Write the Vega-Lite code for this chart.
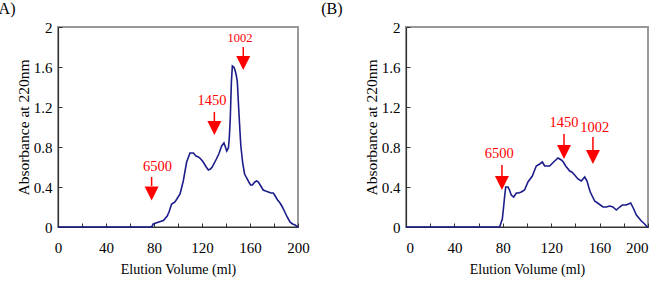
{
  "$schema": "https://vega.github.io/schema/vega-lite/v6.json",
  "padding": {"left": -8, "top": 0, "right": 0, "bottom": 0},
  "background": "white",
  "config": {
    "font": "Liberation Serif",
    "view": {"stroke": "#999999", "strokeWidth": 2},
    "axis": {
      "labelFont": "Liberation Serif", "labelFontSize": 15, "labelColor": "#000000", "labelOverlap": false, "labelFlush": false,
      "titleFont": "Liberation Serif", "titleFontSize": 14, "titleFontWeight": "normal", "titleColor": "#000000",
      "grid": false, "domainColor": "#333333", "domainWidth": 1.2, "tickColor": "#333333", "tickSize": -4, "tickWidth": 1
    },
    "text": {"font": "Liberation Serif"},
    "title": {"font": "Liberation Serif", "fontSize": 16, "fontWeight": "normal", "color": "#000000", "anchor": "start", "frame": "bounds", "offset": 3}
  },
  "datasets": {
    "curve": [
      {"panel": "A", "ml": 0, "abs": 0}, {"panel": "A", "ml": 78, "abs": 0}, {"panel": "A", "ml": 79.4, "abs": 0.03},
      {"panel": "A", "ml": 84, "abs": 0.05}, {"panel": "A", "ml": 87.8, "abs": 0.065}, {"panel": "A", "ml": 91, "abs": 0.11},
      {"panel": "A", "ml": 92.5, "abs": 0.15}, {"panel": "A", "ml": 94.7, "abs": 0.23}, {"panel": "A", "ml": 97.5, "abs": 0.25},
      {"panel": "A", "ml": 101.7, "abs": 0.33}, {"panel": "A", "ml": 104.4, "abs": 0.46}, {"panel": "A", "ml": 107.2, "abs": 0.65},
      {"panel": "A", "ml": 110, "abs": 0.74}, {"panel": "A", "ml": 112.8, "abs": 0.74}, {"panel": "A", "ml": 115, "abs": 0.71},
      {"panel": "A", "ml": 117, "abs": 0.7}, {"panel": "A", "ml": 119, "abs": 0.68}, {"panel": "A", "ml": 121, "abs": 0.65},
      {"panel": "A", "ml": 123.5, "abs": 0.6}, {"panel": "A", "ml": 125.3, "abs": 0.57}, {"panel": "A", "ml": 127, "abs": 0.58},
      {"panel": "A", "ml": 128.5, "abs": 0.6}, {"panel": "A", "ml": 132, "abs": 0.68}, {"panel": "A", "ml": 134, "abs": 0.73},
      {"panel": "A", "ml": 136.4, "abs": 0.81}, {"panel": "A", "ml": 138.3, "abs": 0.84}, {"panel": "A", "ml": 139.5, "abs": 0.8},
      {"panel": "A", "ml": 140.6, "abs": 0.76}, {"panel": "A", "ml": 142, "abs": 0.79}, {"panel": "A", "ml": 142.8, "abs": 0.9},
      {"panel": "A", "ml": 143.6, "abs": 1.1}, {"panel": "A", "ml": 144.5, "abs": 1.45}, {"panel": "A", "ml": 145.3, "abs": 1.61},
      {"panel": "A", "ml": 146.5, "abs": 1.6}, {"panel": "A", "ml": 147.5, "abs": 1.57}, {"panel": "A", "ml": 148.5, "abs": 1.52},
      {"panel": "A", "ml": 149.4, "abs": 1.46}, {"panel": "A", "ml": 150.3, "abs": 1.25}, {"panel": "A", "ml": 151.2, "abs": 1.05},
      {"panel": "A", "ml": 152.3, "abs": 0.82}, {"panel": "A", "ml": 153.9, "abs": 0.64}, {"panel": "A", "ml": 155.5, "abs": 0.53},
      {"panel": "A", "ml": 157.2, "abs": 0.49}, {"panel": "A", "ml": 159, "abs": 0.45}, {"panel": "A", "ml": 160.5, "abs": 0.42},
      {"panel": "A", "ml": 162, "abs": 0.42}, {"panel": "A", "ml": 164, "abs": 0.45}, {"panel": "A", "ml": 165.6, "abs": 0.46},
      {"panel": "A", "ml": 167, "abs": 0.45}, {"panel": "A", "ml": 169, "abs": 0.41}, {"panel": "A", "ml": 171, "abs": 0.37},
      {"panel": "A", "ml": 173, "abs": 0.36}, {"panel": "A", "ml": 175.3, "abs": 0.35}, {"panel": "A", "ml": 177.5, "abs": 0.34},
      {"panel": "A", "ml": 179.4, "abs": 0.34}, {"panel": "A", "ml": 180.5, "abs": 0.32}, {"panel": "A", "ml": 181.5, "abs": 0.3},
      {"panel": "A", "ml": 183, "abs": 0.27}, {"panel": "A", "ml": 185, "abs": 0.24}, {"panel": "A", "ml": 187, "abs": 0.2},
      {"panel": "A", "ml": 189, "abs": 0.15}, {"panel": "A", "ml": 191, "abs": 0.1}, {"panel": "A", "ml": 193.3, "abs": 0.05},
      {"panel": "A", "ml": 195.5, "abs": 0.03}, {"panel": "A", "ml": 197.5, "abs": 0.02}, {"panel": "A", "ml": 200, "abs": 0},
      {"panel": "B", "ml": 0, "abs": 0}, {"panel": "B", "ml": 77.4, "abs": 0}, {"panel": "B", "ml": 79.6, "abs": 0.08},
      {"panel": "B", "ml": 80.5, "abs": 0.18}, {"panel": "B", "ml": 81.3, "abs": 0.28}, {"panel": "B", "ml": 82.4, "abs": 0.4},
      {"panel": "B", "ml": 84.3, "abs": 0.4}, {"panel": "B", "ml": 85.5, "abs": 0.37}, {"panel": "B", "ml": 87, "abs": 0.32},
      {"panel": "B", "ml": 89, "abs": 0.3}, {"panel": "B", "ml": 91.2, "abs": 0.34}, {"panel": "B", "ml": 93, "abs": 0.34},
      {"panel": "B", "ml": 95.3, "abs": 0.35}, {"panel": "B", "ml": 98, "abs": 0.37}, {"panel": "B", "ml": 100.8, "abs": 0.45},
      {"panel": "B", "ml": 104.4, "abs": 0.51}, {"panel": "B", "ml": 106, "abs": 0.56}, {"panel": "B", "ml": 107.7, "abs": 0.61},
      {"panel": "B", "ml": 110.5, "abs": 0.63}, {"panel": "B", "ml": 112.7, "abs": 0.65}, {"panel": "B", "ml": 114.6, "abs": 0.61},
      {"panel": "B", "ml": 118.7, "abs": 0.61}, {"panel": "B", "ml": 122, "abs": 0.65}, {"panel": "B", "ml": 125.6, "abs": 0.69},
      {"panel": "B", "ml": 128.4, "abs": 0.67}, {"panel": "B", "ml": 130, "abs": 0.65}, {"panel": "B", "ml": 132, "abs": 0.61},
      {"panel": "B", "ml": 135.3, "abs": 0.56}, {"panel": "B", "ml": 137, "abs": 0.55}, {"panel": "B", "ml": 139.4, "abs": 0.52},
      {"panel": "B", "ml": 142.1, "abs": 0.48}, {"panel": "B", "ml": 144.9, "abs": 0.46}, {"panel": "B", "ml": 147.7, "abs": 0.5},
      {"panel": "B", "ml": 149.6, "abs": 0.46}, {"panel": "B", "ml": 151, "abs": 0.4}, {"panel": "B", "ml": 152.3, "abs": 0.35},
      {"panel": "B", "ml": 155.9, "abs": 0.26}, {"panel": "B", "ml": 159.5, "abs": 0.23}, {"panel": "B", "ml": 162.8, "abs": 0.2},
      {"panel": "B", "ml": 165.6, "abs": 0.2}, {"panel": "B", "ml": 168.3, "abs": 0.21}, {"panel": "B", "ml": 171, "abs": 0.2},
      {"panel": "B", "ml": 173.8, "abs": 0.17}, {"panel": "B", "ml": 176.6, "abs": 0.2}, {"panel": "B", "ml": 178.8, "abs": 0.22},
      {"panel": "B", "ml": 182, "abs": 0.22}, {"panel": "B", "ml": 185.7, "abs": 0.24}, {"panel": "B", "ml": 188.2, "abs": 0.18},
      {"panel": "B", "ml": 190.4, "abs": 0.12}, {"panel": "B", "ml": 194.5, "abs": 0.06}, {"panel": "B", "ml": 197.2, "abs": 0.03},
      {"panel": "B", "ml": 199.4, "abs": 0}, {"panel": "B", "ml": 200, "abs": 0}
    ],
    "arrows": [
      {"panel": "A", "label": "6500", "x": 78, "textX": 83, "textY": 0.6, "shaftTop": 0.5, "headTop": 0.41, "headMid": 0.335},
      {"panel": "A", "label": "1450", "x": 130.3, "textX": 128.3, "textY": 1.26, "shaftTop": 1.15, "headTop": 1.06, "headMid": 0.99},
      {"panel": "A", "label": "1002", "x": 154.4, "textX": 151.7, "textY": 1.89, "shaftTop": 1.8, "headTop": 1.71, "headMid": 1.64},
      {"panel": "B", "label": "6500", "x": 79.3, "textX": 77.1, "textY": 0.73, "shaftTop": 0.62, "headTop": 0.5, "headMid": 0.44},
      {"panel": "B", "label": "1450", "x": 130.6, "textX": 130.6, "textY": 1.04, "shaftTop": 0.93, "headTop": 0.81, "headMid": 0.75},
      {"panel": "B", "label": "1002", "x": 154.5, "textX": 155.9, "textY": 0.99, "shaftTop": 0.9, "headTop": 0.77, "headMid": 0.7}
    ]
  },
  "spacing": 108,
  "bounds": "flush",
  "hconcat": [
    {
      "title": {"text": "(A)", "dx": -23},
      "width": 240, "height": 200,
      "layer": [
        {
          "data": {"name": "curve"},
          "transform": [{"filter": "datum.panel == 'A'"}],
          "mark": {"type": "line", "color": "#1c1c8a", "strokeWidth": 1.6},
          "encoding": {
            "x": {"field": "ml", "type": "quantitative", "scale": {"domain": [0, 200], "nice": false},
              "axis": {"title": "Elution Volume (ml)", "values": [0, 20, 40, 60, 80, 100, 120, 140, 160, 180, 200], "tickCount": 11, "labelExpr": "datum.value % 40 == 0 ? datum.label : ''", "labelPadding": 17, "titlePadding": 7}},
            "y": {"field": "abs", "type": "quantitative", "scale": {"domain": [0, 2], "nice": false},
              "axis": {"title": "Absorbance at 220nm", "titleFontSize": 15.5, "values": [0, 0.4, 0.8, 1.2, 1.6, 2], "tickCount": 6, "format": "~g", "labelPadding": 10, "titlePadding": 2}}
          }
        },
        {
          "data": {"name": "arrows"},
          "transform": [{"filter": "datum.panel == 'A'"}],
          "mark": {"type": "rule", "color": "#ff0000", "strokeWidth": 1.5},
          "encoding": {"x": {"field": "x", "type": "quantitative"}, "y": {"field": "shaftTop", "type": "quantitative"}, "y2": {"field": "headTop"}}
        },
        {
          "data": {"name": "arrows"},
          "transform": [{"filter": "datum.panel == 'A'"}],
          "mark": {"type": "point", "shape": "M-1,-1L1,-1L0,1Z", "filled": true, "color": "#ff0000", "opacity": 1, "size": 196},
          "encoding": {"x": {"field": "x", "type": "quantitative"}, "y": {"field": "headMid", "type": "quantitative"}}
        },
        {
          "data": {"name": "arrows"},
          "transform": [{"filter": "datum.panel == 'A'"}],
          "mark": {"type": "text", "color": "#ff0000", "font": "Liberation Serif", "baseline": "middle", "align": "center"},
          "encoding": {
            "x": {"field": "textX", "type": "quantitative"}, "y": {"field": "textY", "type": "quantitative"},
            "text": {"field": "label"},
            "size": {"condition": {"test": "datum.label == '1002'", "value": 12.5}, "value": 14.5}
          }
        }
      ]
    },
    {
      "title": {"text": "(B)", "dx": -43},
      "width": 242, "height": 200,
      "layer": [
        {
          "data": {"name": "curve"},
          "transform": [{"filter": "datum.panel == 'B'"}],
          "mark": {"type": "line", "color": "#1c1c8a", "strokeWidth": 1.6},
          "encoding": {
            "x": {"field": "ml", "type": "quantitative", "scale": {"domain": [0, 200], "nice": false},
              "axis": {"title": "Elution Volume (ml)", "values": [0, 20, 40, 60, 80, 100, 120, 140, 160, 180, 200], "tickCount": 11, "labelExpr": "datum.value % 40 == 0 ? datum.label : ''", "labelFlush": true, "labelPadding": 17, "titlePadding": 7}},
            "y": {"field": "abs", "type": "quantitative", "scale": {"domain": [0, 2], "nice": false},
              "axis": {"title": "Absorbance at 220nm", "titleFontSize": 15.5, "values": [0, 0.4, 0.8, 1.2, 1.6, 2], "tickCount": 6, "format": "~g", "labelPadding": 10, "titlePadding": 2}}
          }
        },
        {
          "data": {"name": "arrows"},
          "transform": [{"filter": "datum.panel == 'B'"}],
          "mark": {"type": "rule", "color": "#ff0000", "strokeWidth": 1.5},
          "encoding": {"x": {"field": "x", "type": "quantitative"}, "y": {"field": "shaftTop", "type": "quantitative"}, "y2": {"field": "headTop"}}
        },
        {
          "data": {"name": "arrows"},
          "transform": [{"filter": "datum.panel == 'B'"}],
          "mark": {"type": "point", "shape": "M-1,-1L1,-1L0,1Z", "filled": true, "color": "#ff0000", "opacity": 1, "size": 196},
          "encoding": {"x": {"field": "x", "type": "quantitative"}, "y": {"field": "headMid", "type": "quantitative"}}
        },
        {
          "data": {"name": "arrows"},
          "transform": [{"filter": "datum.panel == 'B'"}],
          "mark": {"type": "text", "color": "#ff0000", "font": "Liberation Serif", "baseline": "middle", "align": "center", "fontSize": 14.5},
          "encoding": {
            "x": {"field": "textX", "type": "quantitative"}, "y": {"field": "textY", "type": "quantitative"},
            "text": {"field": "label"}
          }
        }
      ]
    }
  ]
}
